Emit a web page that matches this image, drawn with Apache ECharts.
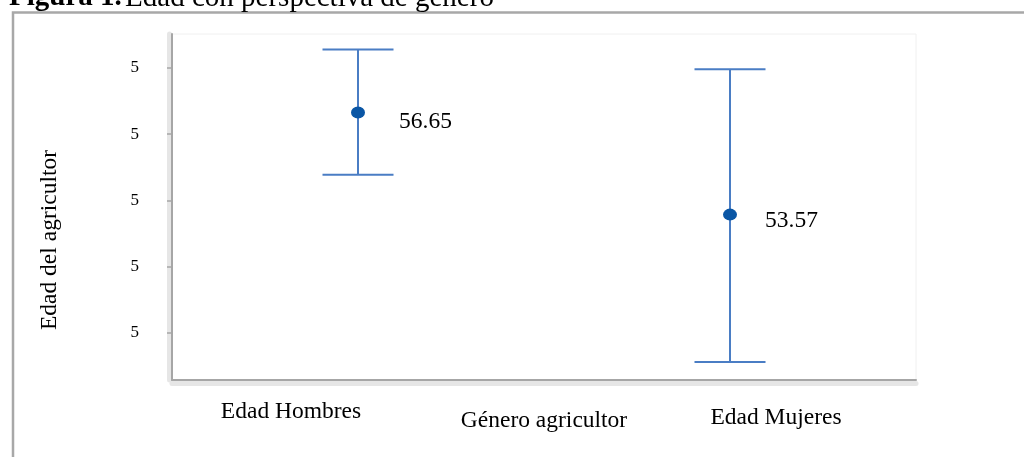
<!DOCTYPE html>
<html>
<head>
<meta charset="utf-8">
<script src="https://cdn.jsdelivr.net/npm/echarts@6/dist/echarts.min.js"></script>
<style>
  html, body { margin: 0; padding: 0; background: #ffffff; }
  #chart { width: 1024px; height: 457px; }
</style>
</head>
<body>
<div id="chart"></div>
<script>
// Mean age of farmers by gender, with interval bars
const categories = ['Edad Hombres', 'Edad Mujeres'];
const means = [56.65, 53.57];
const lowerBounds = [54.77, 49.12];
const upperBounds = [58.55, 57.96];
const tickValues = [50, 52, 54, 56, 58];
const tickLabels = ['5', '5', '5', '5', '5'];
const yMin = 48.58;
const yMax = 59.02;

const SERIF = '"Liberation Serif", "DejaVu Serif", serif';
const BAR_COLOR = '#4a7dc4';
const DOT_COLOR = '#0a56a5';
const AXIS_COLOR = '#a6a6a6';
const BAND_COLOR = '#e6e6e6';
const FONT_SIZE = 23.5;

const chart = echarts.init(document.getElementById('chart'), null, { renderer: 'canvas' });

// per-category label placement next to each mean marker
const labelPlacement = [
  { distance: 34, offset: [0, 9] },
  { distance: 28, offset: [0, 6] }
];

const option = {
  animation: false,
  backgroundColor: '#ffffff',
  graphic: [
    {
      type: 'rect',
      z: 0,
      shape: { x: 13, y: 12.5, width: 1100, height: 600 },
      style: { fill: 'none', stroke: '#a8a8a8', lineWidth: 2.5 }
    },
    {
      type: 'text',
      z: 10,
      x: 9,
      y: -2,
      style: {
        text: '{b|Figura 1.} {r|Edad con perspectiva de género}',
        verticalAlign: 'middle',
        rich: {
          b: { fontFamily: SERIF, fontSize: 29, fontWeight: 'bold', fill: '#000' },
          r: { fontFamily: SERIF, fontSize: 29, fill: '#000' }
        }
      }
    }
  ],
  grid: {
    left: 172,
    right: 108,
    top: 34,
    bottom: 77,
    outerBoundsMode: 'none',
    containLabel: false,
    show: true,
    borderColor: '#f0f0f0',
    borderWidth: 1,
    backgroundColor: 'transparent'
  },
  xAxis: [
    {
      type: 'category',
      data: categories,
      z: 3,
      boundaryGap: true,
      name: 'Género agricultor',
      nameLocation: 'middle',
      nameGap: 29,
      nameMoveOverlap: false,
      nameTextStyle: { fontFamily: SERIF, fontSize: FONT_SIZE, color: '#000' },
      axisLine: { lineStyle: { color: AXIS_COLOR, width: 2 } },
      axisTick: { alignWithLabel: true, length: 5, lineStyle: { color: AXIS_COLOR, width: 1 } },
      axisLabel: {
        interval: 0,
        margin: 20,
        formatter: function (v) {
          return v === categories[0] ? '{h|' + v + '}' : '{m|' + v + '}';
        },
        rich: {
          h: { fontFamily: SERIF, fontSize: FONT_SIZE, color: '#000', padding: [0, 134, 0, 0] },
          m: { fontFamily: SERIF, fontSize: FONT_SIZE, color: '#000', padding: [6, 0, 0, 92] }
        }
      },
      splitLine: { show: false }
    },
    {
      type: 'category',
      data: categories,
      position: 'bottom',
      offset: 3,
      z: 1,
      axisLine: { lineStyle: { color: BAND_COLOR, width: 5 } },
      axisTick: { show: false },
      axisLabel: { show: false },
      splitLine: { show: false }
    }
  ],
  yAxis: [
    {
      type: 'value',
      min: yMin,
      max: yMax,
      z: 3,
      name: 'Edad del agricultor',
      nameLocation: 'middle',
      nameGap: 110,
      nameRotate: 90,
      nameMoveOverlap: false,
      nameTextStyle: { fontFamily: SERIF, fontSize: FONT_SIZE, color: '#000', padding: [0, 66, 0, 0] },
      axisLine: { show: true, lineStyle: { color: AXIS_COLOR, width: 2 } },
      axisTick: {
        show: true,
        length: 5,
        customValues: tickValues,
        lineStyle: { color: AXIS_COLOR, width: 1.5 }
      },
      axisLabel: {
        customValues: tickValues,
        margin: 33,
        fontFamily: SERIF,
        fontSize: 17,
        color: '#000',
        padding: [12, 0, 0, 0],
        formatter: function (v) {
          const i = tickValues.indexOf(Math.round(v));
          return i >= 0 ? tickLabels[i] : '';
        }
      },
      splitLine: { show: false }
    },
    {
      type: 'value',
      min: yMin,
      max: yMax,
      position: 'left',
      offset: 3,
      z: 1,
      axisLine: { show: true, lineStyle: { color: BAND_COLOR, width: 5 } },
      axisTick: { show: false },
      axisLabel: { show: false },
      splitLine: { show: false }
    }
  ],
  series: [
    {
      type: 'custom',
      name: 'Intervalo',
      xAxisIndex: 0,
      yAxisIndex: 0,
      z: 4,
      data: categories.map(function (c, i) { return [i, lowerBounds[i], upperBounds[i]]; }),
      encode: { x: 0, y: [1, 2] },
      renderItem: function (params, api) {
        const x = api.value(0);
        const lo = api.coord([x, api.value(1)]);
        const hi = api.coord([x, api.value(2)]);
        const half = 35.5;
        const style = { stroke: BAR_COLOR, lineWidth: 2, fill: 'none' };
        return {
          type: 'group',
          children: [
            { type: 'line', shape: { x1: hi[0], y1: hi[1], x2: lo[0], y2: lo[1] }, style: style },
            { type: 'line', shape: { x1: hi[0] - half, y1: hi[1], x2: hi[0] + half, y2: hi[1] }, style: style },
            { type: 'line', shape: { x1: lo[0] - half, y1: lo[1], x2: lo[0] + half, y2: lo[1] }, style: style }
          ]
        };
      }
    },
    {
      type: 'scatter',
      name: 'Media',
      xAxisIndex: 0,
      yAxisIndex: 0,
      z: 5,
      symbol: 'circle',
      symbolSize: [14, 12],
      itemStyle: { color: DOT_COLOR, opacity: 1 },
      emphasis: { disabled: true },
      data: categories.map(function (c, i) {
        return {
          value: [i, means[i]],
          label: {
            show: true,
            position: 'right',
            distance: labelPlacement[i].distance,
            offset: labelPlacement[i].offset,
            formatter: means[i].toFixed(2),
            fontFamily: SERIF,
            fontSize: FONT_SIZE,
            color: '#000'
          }
        };
      })
    }
  ]
};

chart.setOption(option);
</script>
</body>
</html>
